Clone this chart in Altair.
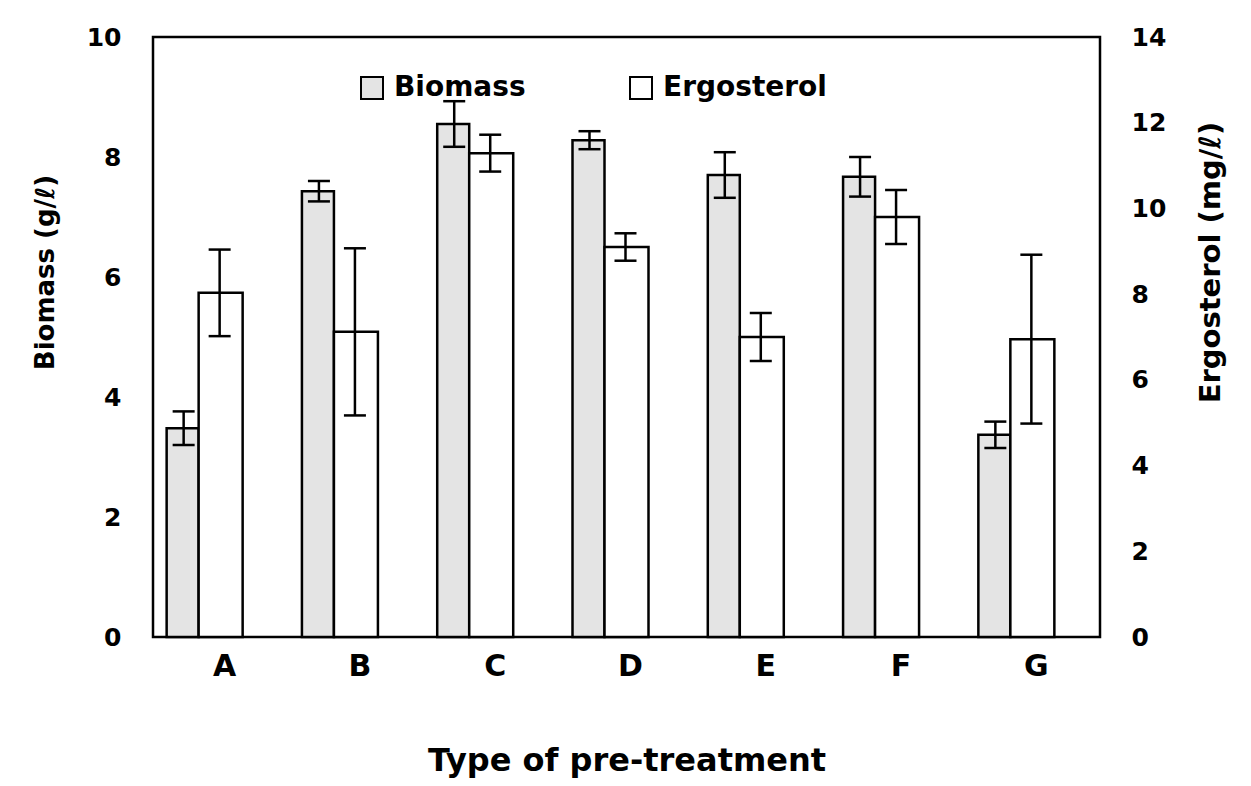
import altair as alt
import pandas as pd

categories = ["A", "B", "C", "D", "E", "F", "G"]
biomass = [3.48, 7.43, 8.55, 8.28, 7.70, 7.67, 3.37]
biomass_err = [0.28, 0.17, 0.38, 0.15, 0.38, 0.33, 0.22]
ergosterol = [8.03, 7.12, 11.29, 9.10, 7.00, 9.80, 6.95]
ergosterol_err = [1.01, 1.95, 0.43, 0.32, 0.56, 0.63, 1.97]
series_names = ["Biomass", "Ergosterol"]

rows = []
for c, v, e in zip(categories, biomass, biomass_err):
    rows.append(dict(cat=c, series="Biomass", value=v, lo=v - e, hi=v + e))
for c, v, e in zip(categories, ergosterol, ergosterol_err):
    rows.append(dict(cat=c, series="Ergosterol", value=v, lo=v - e, hi=v + e))
df = pd.DataFrame(rows)

FONT = "DejaVu Sans"
common = dict(labelFont=FONT, titleFont=FONT, labelFontWeight="bold",
              titleFontWeight="bold", labelColor="black", titleColor="black",
              ticks=False, domain=False, grid=False)

xenc = alt.X(
    "cat:N",
    scale=alt.Scale(paddingInner=0, paddingOuter=0),
    axis=alt.Axis(title="Type of pre-treatment", labelAngle=0, labelFontSize=30,
                  titleFontSize=32, labelPadding=14, titlePadding=64,
                  labelOffset=4, **common),
)

color = alt.Color(
    "series:N",
    scale=alt.Scale(domain=series_names, range=["#e4e4e4", "#ffffff"]),
    legend=alt.Legend(title=None, orient="none", legendX=205, legendY=37,
                      direction="horizontal", symbolType="square", symbolSize=484,
                      symbolStrokeColor="black", symbolStrokeWidth=2,
                      labelFontSize=28, labelFont=FONT, labelFontWeight="bold",
                      labelColor="black", labelLimit=0,
                      labelOffset=8, columnPadding=100, padding=0),
)

bio_scale = alt.Scale(domain=[0, 10])
bio_axis = alt.Axis(title="Biomass (g/ℓ)", values=[0, 2, 4, 6, 8, 10], labelFontSize=25,
                    titleFontSize=26, labelPadding=32, titlePadding=28, titleY=235,
                    **common)
erg_scale = alt.Scale(domain=[0, 14])
erg_axis = alt.Axis(title="Ergosterol (mg/ℓ)", orient="right",
                    values=[0, 2, 4, 6, 8, 10, 12, 14], labelFontSize=25,
                    titleFontSize=29, labelPadding=31, titleX=110, titleY=225,
                    titleAngle=270, titleBaseline="middle", titleAlign="center",
                    **common)

base = alt.Chart(df)
bio = base.transform_filter(alt.datum.series == "Biomass")
erg = base.transform_filter(alt.datum.series == "Ergosterol")

def ybio(f):
    return alt.Y(f, scale=bio_scale, axis=bio_axis, title="Biomass (g/ℓ)")

def yerg(f):
    return alt.Y(f, scale=erg_scale, axis=erg_axis, title="Ergosterol (mg/ℓ)")

bio_layer = alt.layer(
    bio.mark_bar(width=32, xOffset=-38, stroke="black", strokeWidth=2.5, opacity=1).encode(
        x=xenc, y=ybio("value:Q"), color=color),
    bio.mark_rule(xOffset=-37, color="black", strokeWidth=2.5).encode(
        x=xenc, y=ybio("lo:Q"), y2="hi:Q"),
    bio.mark_tick(xOffset=-37, color="black", size=22, thickness=2.5, opacity=1).encode(
        x=xenc, y=ybio("hi:Q")),
    bio.mark_tick(xOffset=-37, color="black", size=22, thickness=2.5, opacity=1).encode(
        x=xenc, y=ybio("lo:Q")),
)

erg_layer = alt.layer(
    erg.mark_bar(width=44, xOffset=0, stroke="black", strokeWidth=2.5, opacity=1).encode(
        x=xenc, y=yerg("value:Q"), color=color),
    erg.mark_rule(xOffset=-1, color="black", strokeWidth=2.5).encode(
        x=xenc, y=yerg("lo:Q"), y2="hi:Q"),
    erg.mark_tick(xOffset=-1, color="black", size=22, thickness=2.5, opacity=1).encode(
        x=xenc, y=yerg("hi:Q")),
    erg.mark_tick(xOffset=-1, color="black", size=22, thickness=2.5, opacity=1).encode(
        x=xenc, y=yerg("lo:Q")),
)

chart = (
    alt.layer(bio_layer, erg_layer)
    .resolve_scale(y="independent")
    .properties(width=947, height=600, background="white",
                padding={"left": 145, "top": 29, "right": 143, "bottom": 141},
                autosize=alt.AutoSizeParams(type="none"))
    .configure_view(stroke="black", strokeWidth=2.5)
)

chart.save("out.html", embed_options={"renderer": "svg", "actions": False})
